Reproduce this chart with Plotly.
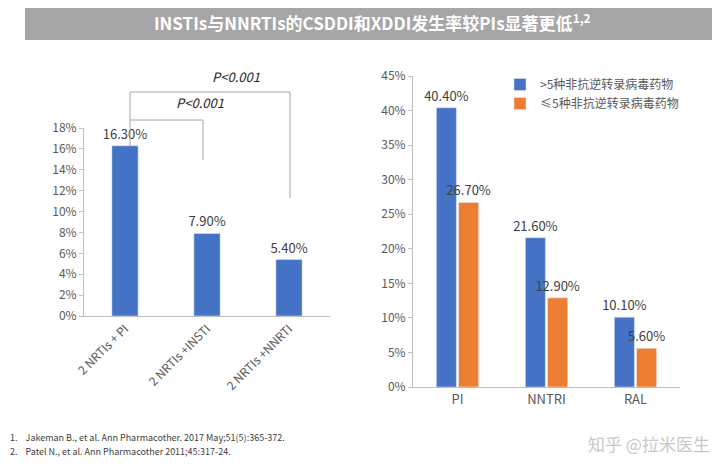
import plotly.graph_objects as go

# left chart: regimens
regimens = ["2 NRTIs + PI", "2 NRTIs +INSTI", "2 NRTIs +NNRTI"]
regimen_rates = [16.3, 7.9, 5.4]

# right chart: drug class by number of co-medications
classes = ["PI", "NNTRI", "RAL"]
more_than_5 = [40.4, 21.6, 10.1]
up_to_5 = [26.7, 12.9, 5.6]
series_names = [">5种非抗逆转录病毒药物", "≤5种非抗逆转录病毒药物"]

refs = [
    "1.    Jakeman B., et al. Ann Pharmacother. 2017 May;51(5):365-372.",
    "2.    Patel N., et al. Ann Pharmacother 2011;45:317-24.",
]

BLUE = "#4472c4"
ORANGE = "#ed7d31"
GREY = "#595959"
# the page body keeps an 8px margin, so the figure is 16px smaller than the window
PAD = 8
W, H = 720 - 2 * PAD, 474 - 2 * PAD


def px_x(v):
    return (v - PAD) / W


def px_y(v):
    return 1 - (v - PAD) / H


fig = go.Figure()
fig.add_trace(go.Bar(
    x=regimens, y=regimen_rates, marker_color=BLUE, width=0.32,
    text=[f"{v:.2f}%" for v in regimen_rates], textposition="outside",
    constraintext="none",
    textfont=dict(size=13, color="#404040"), cliponaxis=False,
    showlegend=False, xaxis="x", yaxis="y",
))
for vals, name, col in [(more_than_5, series_names[0], BLUE),
                        (up_to_5, series_names[1], ORANGE)]:
    fig.add_trace(go.Bar(
        x=classes, y=vals, name=name, marker_color=col,
        text=[f"{v:.2f}%" for v in vals], textposition="outside",
        constraintext="none",
        textfont=dict(size=13, color="#404040"), cliponaxis=False,
        xaxis="x2", yaxis="y2",
    ))

axis_font = dict(size=12, color=GREY)
fig.update_layout(
    width=W, height=H, margin=dict(l=0, r=0, t=0, b=0),
    paper_bgcolor="white", plot_bgcolor="rgba(0,0,0,0)",
    font=dict(family="Noto Sans CJK SC, Liberation Sans, sans-serif", color=GREY),
    barmode="group", bargap=0.5, bargroupgap=0.1,
    xaxis=dict(domain=[px_x(84), px_x(330)], showline=True, linecolor="#bfbfbf",
               tickangle=-45, tickfont=axis_font, anchor="y", automargin=False),
    yaxis=dict(domain=[px_y(316), px_y(128)], range=[0, 18], dtick=2,
               ticksuffix="%", showgrid=False, showline=True, linecolor="#bfbfbf",
               ticks="outside", ticklen=4, tickcolor="#bfbfbf",
               tickfont=axis_font, anchor="x", automargin=False),
    xaxis2=dict(domain=[px_x(413), px_x(680)], showline=True, linecolor="#bfbfbf",
                tickfont=dict(size=13, color=GREY), anchor="y2", automargin=False),
    yaxis2=dict(domain=[px_y(387), px_y(76)], range=[0, 45], dtick=5,
                ticksuffix="%", showgrid=False, showline=True, linecolor="#bfbfbf",
                ticks="outside", ticklen=4, tickcolor="#bfbfbf",
                tickfont=axis_font, anchor="x2", automargin=False),
    legend=dict(x=px_x(500), y=px_y(70), xanchor="left", yanchor="top",
                font=dict(size=12, color=GREY), bgcolor="rgba(0,0,0,0)",
                itemwidth=30),
)

# title bar
fig.add_shape(type="rect", xref="paper", yref="paper",
              x0=px_x(25), x1=1, y0=px_y(40), y1=1,
              fillcolor="#a6a6a6", line_width=0, layer="below")
fig.add_annotation(
    xref="paper", yref="paper", x=px_x(372), y=px_y(22), yanchor="middle",
    text="<b>INSTIs与NNRTIs的CSDDI和XDDI发生率较PIs显著更低<sup>1,2</sup></b>",
    showarrow=False, font=dict(size=17, color="white"),
)

# significance brackets
line = dict(color="#a6a6a6", width=1)
for x0, y0, x1, y1 in [
    (130, 92, 290, 92), (130, 92, 130, 146), (290, 92, 290, 198),
    (130, 120, 203, 120), (203, 120, 203, 160),
]:
    fig.add_shape(type="line", xref="paper", yref="paper",
                  x0=px_x(x0), y0=px_y(y0), x1=px_x(x1), y1=px_y(y1), line=line)
fig.add_annotation(xref="paper", yref="paper", x=px_x(210), y=px_y(76),
                   yanchor="middle", text="<i>P<0.001</i>", showarrow=False,
                   font=dict(size=13, color="#262626"))
fig.add_annotation(xref="paper", yref="paper", x=px_x(174), y=px_y(103),
                   yanchor="middle", text="<i>P<0.001</i>", showarrow=False,
                   font=dict(size=13, color="#262626"))

for i, r in enumerate(refs):
    fig.add_annotation(xref="paper", yref="paper", x=px_x(8), y=px_y(437 + 14 * i),
                       yanchor="middle", text=r, showarrow=False, xanchor="left",
                       font=dict(size=9, color="#404040"))

fig.add_annotation(xref="paper", yref="paper", x=1, y=px_y(443),
                   yanchor="middle", text="知乎 @拉米医生", showarrow=False,
                   xanchor="right", font=dict(size=17, color="#c8c8c8"))

fig.write_html("out.html")
